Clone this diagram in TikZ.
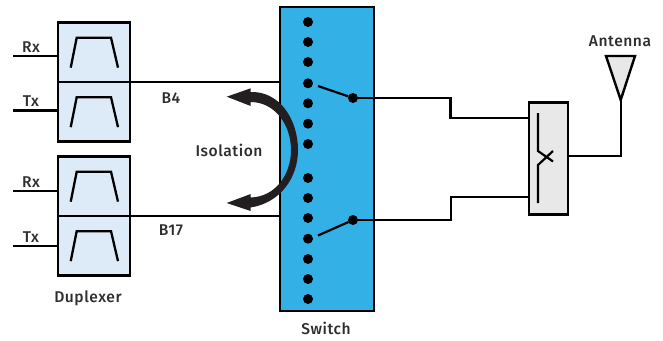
\documentclass[tikz,border=0pt]{standalone}
\usepackage{fontspec}
\setmainfont[LetterSpace=3.5]{Fira Sans Medium}
\definecolor{swblue}{HTML}{33B0E6}
\definecolor{dupblue}{HTML}{DDEAF8}
\definecolor{lgray}{HTML}{E8E8E8}
\definecolor{ink}{HTML}{231F20}
\definecolor{txt}{HTML}{2E2E2E}
\tikzset{
  wire/.style={line width=2.2pt,black},
  boxed/.style={draw=black,line width=2.6pt,inner sep=0pt,outer sep=0pt,rectangle},
  dupbox/.style={boxed,fill=dupblue,minimum width=72pt,minimum height=59.5pt},
  swdot/.style={circle,fill=black,inner sep=0pt,outer sep=0pt,minimum size=10pt},
  lbl/.style={font=\fontsize{15.6pt}{17pt}\selectfont,text=txt,inner sep=0pt},
  filt/.style={line width=2.3pt,black,line join=miter},
}
\begin{document}
\begin{tikzpicture}[x=1pt,y=-1pt]
\useasboundingbox (0,0) rectangle (663,340);
% switch
\node[boxed,fill=swblue,minimum width=94pt,minimum height=304pt] (sw) at (327,159) {};
% duplexers
\node[dupbox] (d1r) at (94,52.25) {};
\node[dupbox] (d1t) at (94,111.75) {};
\node[dupbox] (d2r) at (94,186.25) {};
\node[dupbox] (d2t) at (94,245.75) {};
% filter curves
\foreach \n in {d1r,d1t,d2r,d2t}{
  \draw[filt] ([shift={(-23.3,15.4)}]\n.center) -- ([shift={(-17.3,-14.6)}]\n.center) -- ([shift={(17,-14.6)}]\n.center) -- ([shift={(24,15.4)}]\n.center);
}
% port stubs
\coordinate (rx1) at (13,56);
\coordinate (tx1) at (13,110.5);
\coordinate (rx2) at (13,191);
\coordinate (tx2) at (13,246);
\draw[wire,line width=2.4pt] (rx1) -- (rx1 -| d1r.west);
\draw[wire] (tx1) -- (tx1 -| d1t.west);
\draw[wire,line width=2.4pt] (rx2) -- (rx2 -| d2r.west);
\draw[wire] (tx2) -- (tx2 -| d2t.west);
% band lines
\draw[wire,line width=2pt] (d1r.south east) -- (d1r.south east -| sw.west);
\draw[wire,line width=2.2pt] (d2r.south east) -- (d2r.south east -| sw.west);
% labels
\node[lbl] (lrx1) at (31,46.8) {Rx};
\node[lbl] (ltx1) at (31,101.3) {Tx};
\node[lbl] (lrx2) at (31,181.8) {Rx};
\node[lbl] (ltx2) at (31,236.8) {Tx};
\node[lbl] (lb4) at (171,98.5) {B4};
\node[lbl] (lb17) at (171,230.5) {B17};
\node[lbl] (liso) at (229,150.5) {Isolation};
\node[lbl] (ldup) at (88,298.5) {Duplexer};
\node[lbl] (lsw) at (326,328.5) {Switch};
\node[lbl] (lant) at (620,41) {Antenna};
% isolation arrow
\fill[ink] (226.7,96.7) -- (250.7,88.3) -- (250.5,92)
  .. controls (280,91) and (298,120) .. (298,150)
  .. controls (298,178) and (280,203) .. (250.5,207.5)
  -- (250.7,211) -- (226.7,203) -- (250.7,194) -- (250.5,197.5)
  .. controls (275,197) and (291,175) .. (291,150)
  .. controls (291,125) and (275,102) .. (250.5,102)
  -- (250.7,106) -- cycle;
% contact dots
\foreach \y/\i in {22/1,42/2,62/3,83.3/4,103.3/5,123.7/6,144/7,178/9,198/10,218/11,238.7/12,259/13,279/14,299/15}{
  \node[swdot] (c\i) at (308,\y) {};
}
% switch arms
\node[swdot] (p1) at (353,98) {};
\node[swdot] (p2) at (353,220) {};
\coordinate (a1) at (318,86);
\coordinate (a2) at (318,235.5);
\draw[wire] (a1) -- (p1);
\draw[wire] (a2) -- (p2);
% coupler
\node[boxed,fill=lgray,minimum width=39pt,minimum height=112.5pt] (cp) at (548.5,158.5) {};
\coordinate (k1) at (450.5,118);
\coordinate (k2) at (451,197);
\draw[wire] (p1) -- (p1 -| k1) -- (k1) -- (k1 -| cp.west);
\draw[wire] (p2) -- (p2 -| k2) -- (k2) -- (k2 -| cp.west);
% coupler symbol
\draw[wire,line join=miter] (538,113) -- (538,151) -- (553,161.5);
\draw[wire,line join=miter] (538,203) -- (538,165) -- (553,151);
% antenna
\coordinate (antc) at (620.7,100);
\filldraw[fill=lgray,draw=black,line width=2.4pt,line join=miter] (606,56) -- (635,56) -- (antc) -- cycle;
\draw[wire] (cp.east |- 0,156) -- (antc |- 0,156) -- (antc);
\end{tikzpicture}
\end{document}
